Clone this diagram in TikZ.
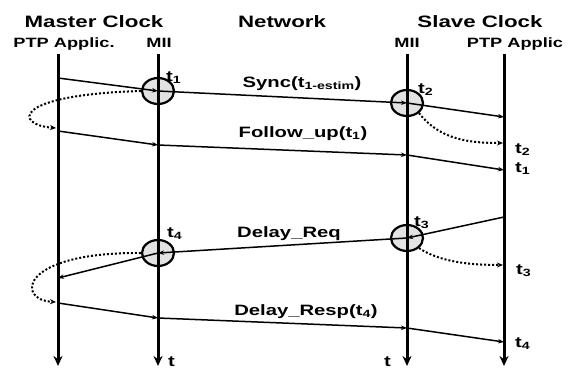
\documentclass[tikz,border=0pt]{standalone}
\usepackage{fontspec}
\setmainfont{Liberation Sans}[FakeStretch=1.35]
\usetikzlibrary{arrows.meta,positioning,shapes.geometric}
\definecolor{stampgray}{RGB}{226,226,226}

\begin{document}
\begin{tikzpicture}[
      x=1pt, y=-1pt,
      every node/.style={inner sep=0pt},
      header/.style={font=\fontsize{16.5}{18}\selectfont\bfseries, anchor=base},
      column/.style={font=\fontsize{13.5}{15}\selectfont\bfseries, anchor=base},
      msglabel/.style={font=\fontsize{15}{17}\selectfont\bfseries, anchor=base},
      tlabel/.style={font=\fontsize{15}{17}\selectfont\bfseries, anchor=base west},
      timeline/.style={line width=3pt, -{Stealth[length=10pt,width=9pt]}},
      msg/.style={line width=1.5pt, -{Stealth[length=6pt,width=4.5pt]}},
      loopback/.style={line width=2pt, dotted, -{Stealth[length=6pt,width=5pt]}},
      stamp/.style={ellipse, draw, line width=2.2pt, fill=stampgray,
        minimum width=32pt, minimum height=26pt},
  ]
  \useasboundingbox (0,0) rectangle (574,370);

  % headers
  \node[header] (master) at (94,27) {Master Clock};
  \node[header] (net)    at (282,27) {Network};
  \node[header] (slave)  at (480,27) {Slave Clock};
  \node[column] (mapp) at (64,47)  {PTP Applic.};
  \node[column] (mmii) at (159,47) {MII};
  \node[column] (smii) at (407,47) {MII};
  \node[column] (sapp) at (515,47) {PTP Applic};

  % timestamp points
  \node[stamp] (c1) at (158,91)  {};
  \node[stamp] (c2) at (407,103) {};
  \node[stamp] (c3) at (407,238) {};
  \node[stamp] (c4) at (158,253) {};

  % time axes
  \coordinate (mappT) at (58,54);  \coordinate (mappB) at (58,366);
  \coordinate (mmiiT) at (158,54); \coordinate (mmiiB) at (158,366);
  \coordinate (smiiT) at (407,54); \coordinate (smiiB) at (407,366);
  \coordinate (sappT) at (504,54); \coordinate (sappB) at (504,366);
  \draw[timeline] (mappT) -- (mappB);
  \draw[timeline] (mmiiT) -- (mmiiB);
  \draw[timeline] (smiiT) -- (smiiB);
  \draw[timeline] (sappT) -- (sappB);

  % 1. Sync
  \coordinate (s0) at (58,78);
  \coordinate (s3) at (504,117);
  \draw[msg] (s0) -- (c1.center);
  \draw[msg] (c1.center) -- (c2.center);
  \draw[msg] (c2.center) -- (s3);
  \coordinate (l1) at (56,128);
  \draw[loopback] (c1.west) .. controls (10,95) and (15,125) .. (l1);
  \coordinate (l2) at (503,143);
  \draw[loopback] (c2.-40) .. controls (440,140) and (470,143) .. (l2);

  % 2. Follow_up
  \coordinate (f0) at (58,131);
  \coordinate (f1) at (158,145);
  \coordinate (f2) at (407,155);
  \coordinate (f3) at (504,170);
  \draw[msg] (f0) -- (f1);
  \draw[msg] (f1) -- (f2);
  \draw[msg] (f2) -- (f3);

  % 3. Delay_Req
  \coordinate (r0) at (504,217);
  \coordinate (r3) at (58,278);
  \draw[msg] (r0) -- (c3.center);
  \draw[msg] (c3.center) -- (c4.center);
  \draw[msg] (c4.center) -- (r3);
  \coordinate (l3) at (503,265);
  \draw[loopback] (c3.-40) .. controls (440,262) and (470,265) .. (l3);
  \coordinate (l4) at (56,302);
  \draw[loopback] (c4.west) .. controls (20,252) and (15,300) .. (l4);

  % 4. Delay_Resp
  \coordinate (p0) at (58,303);
  \coordinate (p1) at (158,318);
  \coordinate (p2) at (407,328);
  \coordinate (p3) at (504,342);
  \draw[msg] (p0) -- (p1);
  \draw[msg] (p1) -- (p2);
  \draw[msg] (p2) -- (p3);

  % labels
  \node[msglabel] (lsync) at (302,87)  {Sync(t\textsubscript{1-estim})};
  \node[msglabel] (lfup)  at (303,137) {Follow\_up(t\textsubscript{1})};
  \node[msglabel] (lreq)  at (289,237) {Delay\_Req};
  \node[msglabel] (lresp) at (306,315) {Delay\_Resp(t\textsubscript{4})};
  \node[tlabel] (t1a) at (166,81)  {t\textsubscript{1}};
  \node[tlabel] (t2a) at (418,93)  {t\textsubscript{2}};
  \node[tlabel] (t3a) at (414,226) {t\textsubscript{3}};
  \node[tlabel] (t4a) at (167,237) {t\textsubscript{4}};
  \node[tlabel] (t2b) at (515,153) {t\textsubscript{2}};
  \node[tlabel] (t1b) at (515,172) {t\textsubscript{1}};
  \node[tlabel] (t3b) at (516,274) {t\textsubscript{3}};
  \node[tlabel] (t4b) at (515,347) {t\textsubscript{4}};
  \node[tlabel] (tm)  at (168,366) {t};
  \node[tlabel] (ts)  at (384,366) {t};
\end{tikzpicture}
\end{document}
